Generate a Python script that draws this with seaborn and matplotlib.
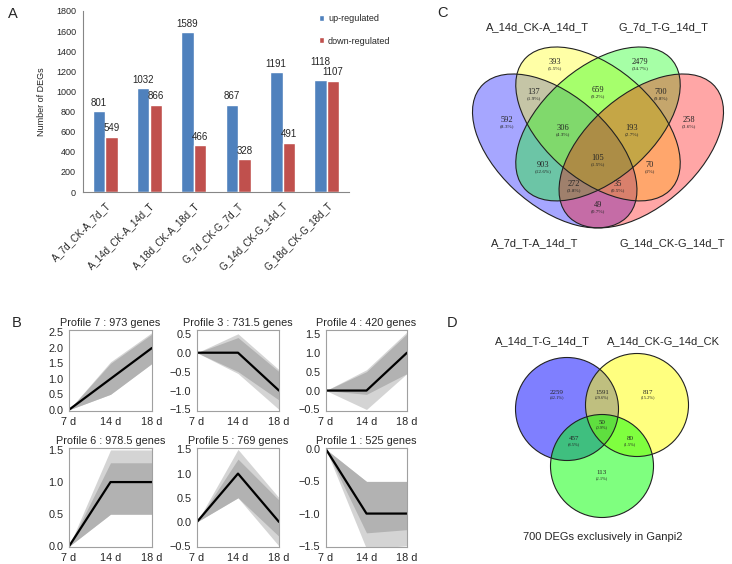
import matplotlib
matplotlib.use("Agg")
import matplotlib.pyplot as plt
import matplotlib.transforms as mtransforms
from matplotlib.patches import Ellipse, Circle
from matplotlib.ticker import MultipleLocator
import pandas as pd
import seaborn as sns

# ---- A: number of DEGs ----
comparisons = ["A_7d_CK-A_7d_T", "A_14d_CK-A_14d_T", "A_18d_CK-A_18d_T",
               "G_7d_CK-G_7d_T", "G_14d_CK-G_14d_T", "G_18d_CK-G_18d_T"]
up_regulated = [801, 1032, 1589, 867, 1191, 1118]
down_regulated = [549, 866, 466, 328, 491, 1107]

# ---- B: STEM profiles ----
profile_titles = ["Profile 7 : 973 genes", "Profile 3 : 731.5 genes", "Profile 4 : 420 genes",
                  "Profile 6 : 978.5 genes", "Profile 5 : 769 genes", "Profile 1 : 525 genes"]
time_points = ["7 d", "14 d", "18 d"]
profile_means = [[0, 1, 2], [0, 0, -1], [0, 0, 1], [0, 1, 1], [0, 1, 0], [0, -1, -1]]
dense_lo = [[0, 0.5, 1.5], [0, -0.5, -1.25], [0, -0.1, 0.45], [0, 0.5, 0.5], [0, 0.5, -0.3], [0, -1.3, -1.25]]
dense_hi = [[0, 1.5, 2.45], [0, 0.4, -0.5], [0, 0.5, 1.5], [0, 1.3, 1.3], [0, 1.3, 0.45], [0, -0.5, -0.5]]
outer_lo = [[0, 0.5, 1.5], [0, -0.55, -1.5], [0, -0.5, 0.45], [0, 0.5, 0.5], [0, 0.5, -0.5], [0, -1.55, -1.5]]
outer_hi = [[0, 1.55, 2.5], [0, 0.5, -0.45], [0, 0.55, 1.55], [0, 1.5, 1.5], [0, 1.5, 0.5], [0, -0.5, -0.5]]

# ---- C: four-set Venn ----
venn4_sets = ["A_14d_CK-A_14d_T", "G_7d_T-G_14d_T", "A_7d_T-A_14d_T", "G_14d_CK-G_14d_T"]
venn4_counts = [393, 2479, 137, 659, 700, 592, 306, 193, 258, 105, 903, 70, 272, 35, 49]

# ---- D: three-set Venn ----
venn3_sets = ["A_14d_T-G_14d_T", "A_14d_CK-G_14d_CK"]
venn3_counts = [2259, 1591, 817, 50, 457, 80, 113]
venn3_note = "700 DEGs exclusively in Ganpi2"

sns.set_style("white")
plt.rcParams["font.family"] = ["Liberation Sans", "DejaVu Sans"]

W, H = 732, 564
fig = plt.figure(figsize=(W / 100, H / 100), dpi=100)


def box(l, t, r, b):
    return [l / W, 1 - b / H, (r - l) / W, (b - t) / H]


def pct(c, total):
    return "({:g}%)".format(round(c / total * 100, 1))


# overlay in pixel coordinates for the Venn panels and letters
ov = fig.add_axes([0, 0, 1, 1])
ov.set_xlim(0, W)
ov.set_ylim(H, 0)
ov.axis("off")

# ---- panel A ----
ax_a = fig.add_axes(box(83, 11, 349, 192))
df_a = pd.DataFrame({
    "comparison": comparisons * 2,
    "count": up_regulated + down_regulated,
    "type": ["up-regulated"] * 6 + ["down-regulated"] * 6,
})
sns.barplot(data=df_a, x="comparison", y="count", hue="type",
            palette=["#4F81BD", "#C0504D"], saturation=1, width=0.57, ax=ax_a)
# value labels; the last blue one is lifted so it clears its neighbour (as in Excel)
for k, c in enumerate(ax_a.containers):
    for j, p in enumerate(c.patches):
        lift = 9 if (k == 0 and j == 5) else 2.5
        ax_a.annotate(f"{p.get_height():.0f}", (p.get_x() + p.get_width() / 2, p.get_height()),
                      xytext=(0, lift), textcoords="offset points",
                      ha="center", va="bottom", fontsize=7)
ax_a.set_ylim(0, 1800)
ax_a.yaxis.set_major_locator(MultipleLocator(200))
ax_a.set_xlim(-0.5, 5.5)
ax_a.set_xlabel("")
ax_a.set_ylabel("Number of DEGs", fontsize=6.5, labelpad=7)
ax_a.set_xticks(range(6), comparisons, rotation=45, ha="right", rotation_mode="anchor", fontsize=7)
ax_a.set_xticks([i - 0.5 for i in range(7)], minor=True)
ax_a.tick_params(axis="x", which="major", length=0, pad=6)
ax_a.tick_params(axis="x", which="minor", length=4, color="#868686", width=0.8, direction="out")
ax_a.tick_params(axis="y", length=3, color="#868686", width=0.8, direction="out", labelsize=6.5, pad=2)
for s in ["top", "right"]:
    ax_a.spines[s].set_visible(False)
for s in ["left", "bottom"]:
    ax_a.spines[s].set_color("#868686")
    ax_a.spines[s].set_linewidth(0.8)
handles, labels = ax_a.get_legend_handles_labels()
ax_a.get_legend().remove()
fig.legend(handles, labels, loc="upper left", bbox_to_anchor=(319 / W, 1 - 14 / H),
           frameon=False, fontsize=6.5, handlelength=0.6, handleheight=0.6,
           handletextpad=0.4, labelspacing=1.5, borderpad=0, borderaxespad=0)

# ---- panel B ----
b_boxes = [(69, 330, 152, 411), (197, 330, 279, 411), (326, 330, 407, 411),
           (69, 448, 152, 547), (197, 448, 279, 547), (326, 448, 407, 547)]
b_ylims = [(-0.04, 2.58), (-1.54, 0.6), (-0.54, 1.6), (-0.01, 1.53), (-0.52, 1.53), (-1.52, 0.02)]
xs = [0, 1, 2]
for i in range(6):
    ax = fig.add_axes(box(*b_boxes[i]))
    ax.fill_between(xs, outer_lo[i], outer_hi[i], color="#d4d4d4", lw=0)
    ax.fill_between(xs, dense_lo[i], dense_hi[i], color="#b2b2b2", lw=0)
    sns.lineplot(x=xs, y=profile_means[i], color="black", lw=1.6, ax=ax)
    ax.set_xlim(0, 2)
    ax.set_ylim(*b_ylims[i])
    ax.yaxis.set_major_locator(MultipleLocator(0.5))
    ax.set_xticks(xs, time_points)
    ax.set_title(profile_titles[i], fontsize=7.8, pad=3)
    ax.tick_params(length=2.5, width=0.7, color="#888888", labelsize=7.8, pad=1.5)
    for s in ax.spines.values():
        s.set_color("#a0a0a0")
        s.set_linewidth(0.8)

# ---- panel C ----
sx, sy = 288.5, 270
unit = mtransforms.Affine2D().scale(sx, -sy).translate(598 - 0.5 * sx, 47 + 0.855 * sy) + ov.transData
venn4_colors = ["blue", "yellow", "#00ff00", "red"]
venn4_geom = [((0.35, 0.47), -45), ((0.5, 0.57), -45), ((0.5, 0.57), 45), ((0.65, 0.47), 45)]
for (cen, ang), col in zip(venn4_geom, venn4_colors):
    ov.add_patch(Ellipse(cen, 0.7, 0.4, angle=ang, facecolor=col, alpha=0.35,
                         edgecolor="none", transform=unit))
for (cen, ang) in venn4_geom:
    ov.add_patch(Ellipse(cen, 0.7, 0.4, angle=ang, facecolor="none",
                         edgecolor="#222222", lw=0.8, transform=unit))
venn4_xy = [(555, 62), (640, 62), (534, 92), (598, 90), (661, 92), (507, 120), (563, 128),
            (632, 128), (689, 120), (598, 158), (543, 165), (650, 165), (574, 184), (618, 184), (598, 205)]
tot4 = sum(venn4_counts)
for (x, y), c in zip(venn4_xy, venn4_counts):
    ov.text(x, y, str(c), ha="center", va="center", fontsize=6, family="Liberation Serif")
    ov.text(x, y + 6, pct(c, tot4), ha="center", va="center", fontsize=3.8, family="Liberation Serif")
venn4_title_xy = [(537, 27), (663, 27), (535, 243), (672, 243)]
for (x, y), s in zip(venn4_title_xy, venn4_sets):
    ov.text(x, y, s, ha="center", va="center", fontsize=8)

# ---- panel D ----
venn3_colors = ["blue", "yellow", "#00ff00"]
venn3_circ = [(567, 409), (637, 405), (602, 466)]
for cen, col in zip(venn3_circ, venn3_colors):
    ov.add_patch(Circle(cen, 51.5, facecolor=col, alpha=0.5, edgecolor="none"))
for cen in venn3_circ:
    ov.add_patch(Circle(cen, 51.5, facecolor="none", edgecolor="#222222", lw=0.8))
venn3_xy = [(557, 392), (602, 392), (648, 392), (602, 422), (574, 439), (630, 439), (602, 473)]
tot3 = sum(venn3_counts)
for (x, y), c in zip(venn3_xy, venn3_counts):
    ov.text(x, y, str(c), ha="center", va="center", fontsize=5, family="Liberation Serif")
    ov.text(x, y + 5, pct(c, tot3), ha="center", va="center", fontsize=3.2, family="Liberation Serif")
ov.text(542, 341, venn3_sets[0], ha="center", va="center", fontsize=8)
ov.text(663, 341, venn3_sets[1], ha="center", va="center", fontsize=8)
ov.text(603, 537, venn3_note, ha="center", va="center", fontsize=8)

# panel letters
for x, y, s in [(13, 14, "A"), (17, 323, "B"), (443, 13, "C"), (452, 323, "D")]:
    ov.text(x, y, s, ha="center", va="center", fontsize=10.5)

fig.savefig("out.png", dpi=100)
plt.close(fig)
